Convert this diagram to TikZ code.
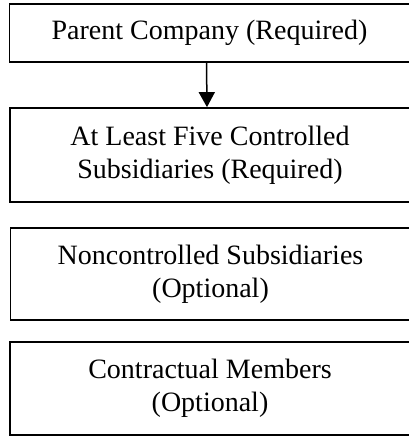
\documentclass[tikz,border=0pt]{standalone}
\usepackage{fontspec}
\setmainfont{Liberation Serif}
\usetikzlibrary{arrows.meta}
\tikzstyle{member}=[rectangle,draw,line width=1.7pt,minimum width=400pt,inner sep=0pt,align=center,font=\fontsize{28}{33}\selectfont]

\begin{document}
\begin{tikzpicture}[x=1pt, y=-1pt]
    \useasboundingbox (0,0) rectangle (408,436);
    \foreach \pos/\name/\hgt/\txt in {{(209.5,33)/parent/58/{Parent Company (Required)}},
        {(210,155)/ctrl/94/{At Least Five Controlled\\Subsidiaries (Required)}},
        {(210.5,274)/nonctrl/92/{Noncontrolled Subsidiaries\\(Optional)}},
        {(210,388.5)/contract/93/{Contractual Members\\(Optional)}}}
        \node[member, minimum height=\hgt pt] (\name) at \pos {\txt};

             \draw[line width=1.5pt, -{Triangle[width=16pt,length=15pt]}] ([xshift=-3pt]parent.south) to ([xshift=-3pt]ctrl.north);
\end{tikzpicture}
\end{document}
